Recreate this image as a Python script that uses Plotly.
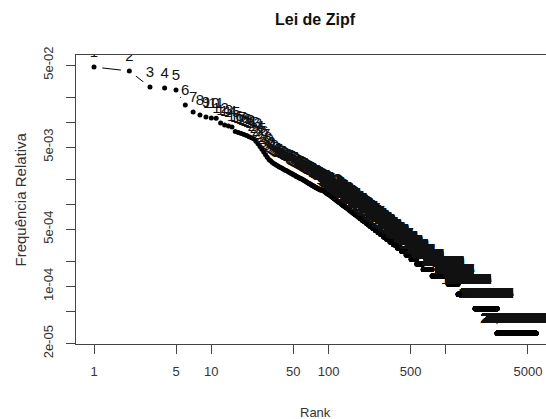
import plotly.graph_objects as go

# Word counts for the most frequent ranks (1..84)
top_counts = [1768, 1580, 1008, 980, 927, 608, 500, 459, 434, 422,
              420, 367, 347, 337, 328, 290, 282, 274, 266, 258,
              250, 243, 236, 220, 205, 190, 176, 163, 151, 140,
              132, 127, 122, 118, 115, 112, 110, 107, 105, 103,
              101, 99, 97, 96, 94, 92, 91, 89, 88, 86,
              85, 84, 82, 81, 80, 79, 78, 77, 76, 75,
              74, 73, 72, 71, 70, 69, 68, 67, 66, 66,
              65, 64, 63, 63, 62, 61, 61, 60, 59, 59,
              58, 58, 57, 57]

# Tail: count levels and the last rank holding each level (staircase)
tail_levels = [56, 55, 54, 53, 52, 51, 50, 49, 48, 47,
               46, 45, 44, 43, 42, 41, 40, 39, 38, 37,
               36, 35, 34, 33, 32, 31, 30, 29, 28, 27,
               26, 25, 24, 23, 22, 21, 20, 19, 18, 17,
               16, 15, 14, 13, 12, 11, 10, 9, 8, 7,
               6, 5, 4, 3, 2, 1]
tail_last_rank = [90, 91, 92, 94, 95, 97, 100, 102, 104, 106,
                  108, 110, 112, 115, 117, 120, 123, 126, 129, 132,
                  136, 140, 144, 148, 152, 157, 162, 167, 173, 179,
                  185, 192, 200, 208, 217, 226, 237, 249, 262, 276,
                  293, 311, 332, 356, 384, 417, 456, 503, 563, 638,
                  761, 1042, 1268, 1771, 2728, 5865]

total_tokens = 37400

x_tick_vals = [1, 5, 10, 50, 100, 500, 1000, 5000]
x_tick_text = ["1", "5", "10", "50", "100", "500", "", "5000"]
y_tick_vals = [5e-2, 2e-2, 1e-2, 5e-3, 2e-3, 1e-3, 5e-4, 2e-4, 1e-4, 5e-5, 2e-5]
y_tick_text = ["5e-02", "", "", "5e-03", "", "", "5e-04", "", "1e-04", "", "2e-05"]

counts = list(top_counts)
for c, last in zip(tail_levels, tail_last_rank):
    counts.extend([c] * (last - len(counts)))
ranks = list(range(1, len(counts) + 1))
freq = [c / total_tokens for c in counts]

FONT = "Liberation Sans, Arial, sans-serif"

fig = go.Figure()
# connecting line (R type="b"): drawn first, then masked near every point
fig.add_trace(go.Scatter(
    x=ranks, y=freq, mode="lines", cliponaxis=True,
    line=dict(color="black", width=1),
    hoverinfo="skip", showlegend=False))
fig.add_trace(go.Scatter(
    x=ranks, y=freq, mode="markers", cliponaxis=True,
    marker=dict(size=17, color="white", line=dict(width=0)),
    hoverinfo="skip", showlegend=False))
fig.add_trace(go.Scatter(
    x=ranks, y=freq, mode="markers", cliponaxis=True,
    marker=dict(size=5, color="black", line=dict(width=0)),
    hoverinfo="skip", showlegend=False))
fig.add_trace(go.Scatter(
    x=ranks, y=freq, mode="markers+text", cliponaxis=True,
    text=[str(r) for r in ranks], textposition="top center",
    marker=dict(size=9, color="rgba(0,0,0,0)"),
    textfont=dict(family=FONT, size=15, color="#111"),
    hoverinfo="skip", showlegend=False))

axis_common = dict(
    type="log", showgrid=False, zeroline=False, automargin=False,
    showline=True, linecolor="#444", linewidth=1,
    ticks="outside", ticklen=9, tickcolor="#444", tickwidth=1,
    tickfont=dict(family=FONT, size=13, color="#333"),
)

fig.update_layout(
    width=546, height=419,
    margin=dict(l=76, r=0, t=55, b=75, autoexpand=False),
    paper_bgcolor="white", plot_bgcolor="white",
    title=dict(text="<b>Lei de Zipf</b>", x=315 / 546, xanchor="center",
               y=1 - 19 / 419, yanchor="middle", yref="container",
               font=dict(family=FONT, size=16, color="#111")),
    xaxis=dict(axis_common, range=[-0.1535, 3.853], mirror=True,
               tickvals=x_tick_vals, ticktext=x_tick_text,
               ticklabelstandoff=6),
    yaxis=dict(axis_common, range=[-4.703, -1.179],
               tickvals=y_tick_vals, ticktext=y_tick_text,
               tickangle=-90, ticklabelstandoff=8),
    annotations=[
        dict(text="Rank", xref="paper", yref="paper",
             x=(315 - 76) / 470, y=(344 - 413) / 289,
             xanchor="center", yanchor="middle", showarrow=False,
             font=dict(family=FONT, size=13, color="#333")),
        dict(text="Frequência Relativa", xref="paper", yref="paper",
             x=(20 - 76) / 470, y=0.5, textangle=-90,
             xanchor="center", yanchor="middle", showarrow=False,
             font=dict(family=FONT, size=15, color="#333")),
    ],
)

fig.write_html("out.html", config={"displayModeBar": False},
               post_script="document.body.style.margin='0px';")
